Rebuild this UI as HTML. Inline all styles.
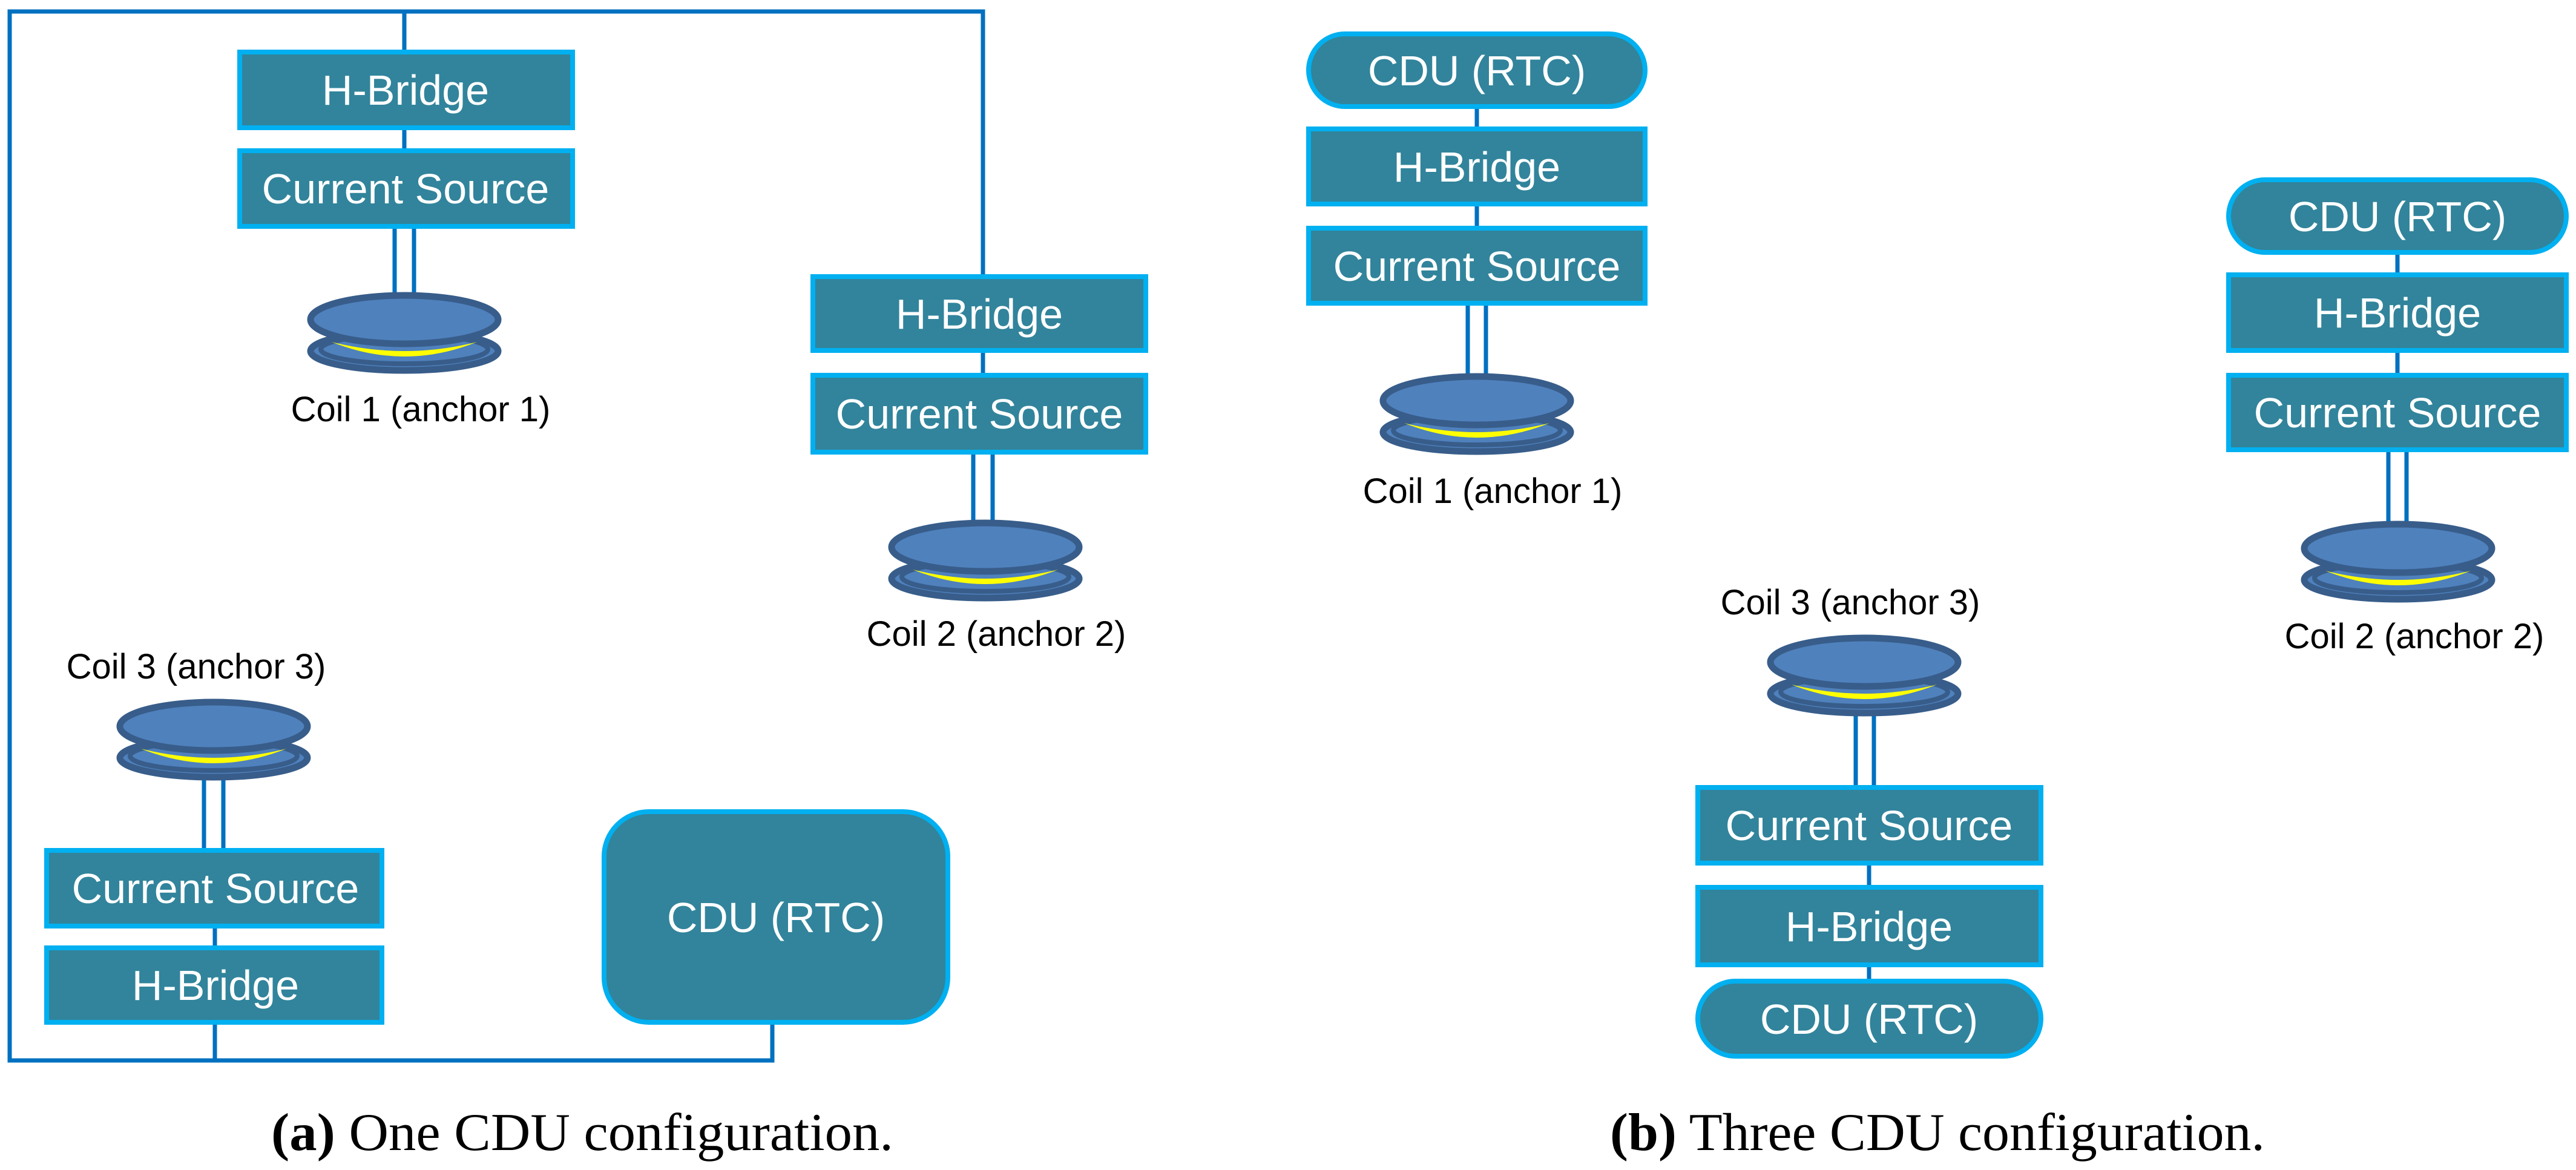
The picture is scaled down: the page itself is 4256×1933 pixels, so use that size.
<!DOCTYPE html>
<html><head><meta charset="utf-8"><style>
html,body{margin:0;padding:0;background:#fff;}
svg{display:block;}
.bx{fill:#31849B;stroke:#00B0F0;stroke-width:8;}
.bt{font-family:"Liberation Sans",sans-serif;font-size:70px;fill:#fff;text-anchor:middle;}
.cl{font-family:"Liberation Sans",sans-serif;font-size:58px;fill:#000;text-anchor:middle;}
.ln{stroke:#0070C0;stroke-width:7;fill:none;}
.cap{font-family:"Liberation Serif",serif;font-size:88px;fill:#000;}
</style></head><body>
<svg width="4256" height="1933" viewBox="0 0 4256 1933" xmlns="http://www.w3.org/2000/svg">
<defs>
<g id="coil">
  <ellipse cx="0" cy="97" rx="155" ry="32" fill="#4F81BD" stroke="#385D8A" stroke-width="11"/>
  <ellipse cx="0" cy="94" rx="138" ry="24" fill="none" stroke="#385D8A" stroke-width="8"/>
  <path d="M-120,82 Q0,130 120,82 Q0,112 -120,82 Z" fill="#FFFF00"/>
  <ellipse cx="0" cy="45" rx="155" ry="40" fill="#4F81BD" stroke="#385D8A" stroke-width="11"/>
</g>
</defs>

<!-- ===== Panel (a) ===== -->
<polyline class="ln" points="668,19 16,19 16,1752 1276,1752 1276,1693"/>
<polyline class="ln" points="668,19 1624,19 1624,455"/>
<line class="ln" x1="668" y1="19" x2="668" y2="82"/>
<line class="ln" x1="355" y1="1693" x2="355" y2="1752"/>
<line class="ln" x1="668" y1="211" x2="668" y2="245"/>
<rect class="bx" x="396" y="86" width="550" height="125"/>
<text class="bt" x="670" y="173">H-Bridge</text>
<rect class="bx" x="396" y="249" width="550" height="125"/>
<text class="bt" x="670" y="336">Current Source</text>
<line class="ln" x1="652" y1="378" x2="652" y2="490"/>
<line class="ln" x1="684" y1="378" x2="684" y2="490"/>
<use href="#coil" x="668" y="483"/>
<text class="cl" x="695" y="696">Coil 1 (anchor 1)</text>
<line class="ln" x1="1624" y1="579" x2="1624" y2="616"/>
<rect class="bx" x="1343" y="457" width="550" height="122"/>
<text class="bt" x="1618" y="543">H-Bridge</text>
<rect class="bx" x="1343" y="620" width="550" height="127"/>
<text class="bt" x="1618" y="708">Current Source</text>
<line class="ln" x1="1608" y1="751" x2="1608" y2="865"/>
<line class="ln" x1="1640" y1="751" x2="1640" y2="865"/>
<use href="#coil" x="1628" y="859"/>
<text class="cl" x="1646" y="1067">Coil 2 (anchor 2)</text>
<text class="cl" x="324" y="1121">Coil 3 (anchor 3)</text>
<line class="ln" x1="337" y1="1280" x2="337" y2="1401"/>
<line class="ln" x1="369" y1="1280" x2="369" y2="1401"/>
<use href="#coil" x="353" y="1155"/>
<line class="ln" x1="355" y1="1530" x2="355" y2="1562"/>
<rect class="bx" x="77" y="1405" width="554" height="125"/>
<text class="bt" x="356" y="1492">Current Source</text>
<rect class="bx" x="77" y="1566" width="554" height="123"/>
<text class="bt" x="356" y="1652">H-Bridge</text>
<rect class="bx" x="998" y="1341" width="568" height="348" rx="74" ry="74"/>
<text class="bt" x="1282" y="1540">CDU (RTC)</text>
<text class="cap" x="448" y="1900" textLength="1028" lengthAdjust="spacingAndGlyphs"><tspan font-weight="bold">(a)</tspan> One CDU configuration.</text>

<!-- ===== Panel (b) ===== -->
<line class="ln" x1="2440" y1="180" x2="2440" y2="373"/>
<rect class="bx" x="2162" y="56" width="556" height="120" rx="60" ry="60"/>
<text class="bt" x="2440" y="141">CDU (RTC)</text>
<rect class="bx" x="2162" y="213" width="556" height="124"/>
<text class="bt" x="2440" y="300">H-Bridge</text>
<rect class="bx" x="2162" y="377" width="556" height="124"/>
<text class="bt" x="2440" y="464">Current Source</text>
<line class="ln" x1="2425" y1="505" x2="2425" y2="624"/>
<line class="ln" x1="2455" y1="505" x2="2455" y2="624"/>
<use href="#coil" x="2440" y="617"/>
<text class="cl" x="2466" y="831">Coil 1 (anchor 1)</text>
<line class="ln" x1="3961" y1="421" x2="3961" y2="616"/>
<rect class="bx" x="3682" y="297" width="558" height="120" rx="60" ry="60"/>
<text class="bt" x="3961" y="382">CDU (RTC)</text>
<rect class="bx" x="3682" y="454" width="558" height="125"/>
<text class="bt" x="3961" y="541">H-Bridge</text>
<rect class="bx" x="3682" y="620" width="558" height="123"/>
<text class="bt" x="3961" y="706">Current Source</text>
<line class="ln" x1="3946" y1="747" x2="3946" y2="868"/>
<line class="ln" x1="3976" y1="747" x2="3976" y2="868"/>
<use href="#coil" x="3962" y="861"/>
<text class="cl" x="3989" y="1071">Coil 2 (anchor 2)</text>
<text class="cl" x="3057" y="1015">Coil 3 (anchor 3)</text>
<line class="ln" x1="3066" y1="1174" x2="3066" y2="1297"/>
<line class="ln" x1="3096" y1="1174" x2="3096" y2="1297"/>
<use href="#coil" x="3080" y="1049"/>
<line class="ln" x1="3088" y1="1430" x2="3088" y2="1620"/>
<rect class="bx" x="2805" y="1301" width="567" height="125"/>
<text class="bt" x="3088" y="1388">Current Source</text>
<rect class="bx" x="2805" y="1466" width="567" height="128"/>
<text class="bt" x="3088" y="1555">H-Bridge</text>
<rect class="bx" x="2805" y="1621" width="567" height="124" rx="62" ry="62"/>
<text class="bt" x="3088" y="1708">CDU (RTC)</text>
<text class="cap" x="2660" y="1900" textLength="1082" lengthAdjust="spacingAndGlyphs"><tspan font-weight="bold">(b)</tspan> Three CDU configuration.</text>
</svg>
</body></html>
